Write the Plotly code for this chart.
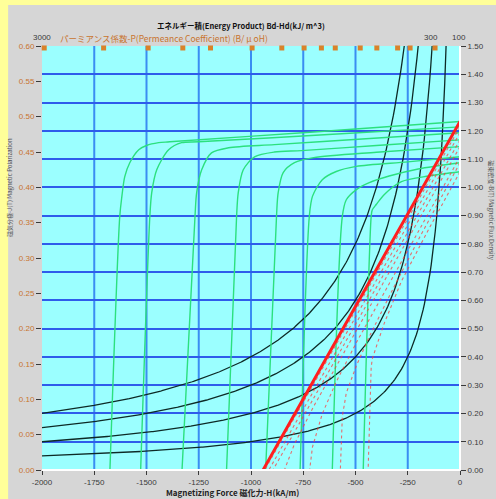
import numpy as np
import plotly.graph_objects as go

# --- axis definitions -------------------------------------------------------
h_ticks = [-2000, -1750, -1500, -1250, -1000, -750, -500, -250, 0]
b_ticks = [round(0.1 * i, 2) for i in range(16)]          # right axis, T
p_ticks = [round(0.05 * i, 2) for i in range(13)]         # left axis

# --- intrinsic demagnetization curves J-H (kA/m, T) -------------------------
curve_h = [
    [0, -700, -1389, -1442, -1500, -1537, -1580, -1604, -1618, -1628, -1675],
    [0, -650, -1251, -1332, -1394, -1451, -1475, -1484, -1528],
    [0, -450, -888, -1107, -1189, -1236, -1260, -1268, -1330],
    [0, -400, -759, -888, -983, -1037, -1061, -1069, -1117],
    [0, -400, -700, -792, -846, -870, -878, -930],
    [0, -250, -496, -592, -659, -706, -721, -765],
    [0, -200, -339, -434, -496, -544, -563, -611],
    [0, -150, -280, -363, -400, -420, -425, -463],
]
curve_j = [
    [1.233, 1.196, 1.161, 1.158, 1.148, 1.133, 1.087, 1.038, 0.967, 0.897, 0.0],
    [1.214, 1.186, 1.161, 1.158, 1.133, 1.062, 0.981, 0.897, 0.0],
    [1.193, 1.172, 1.151, 1.140, 1.122, 1.062, 0.981, 0.897, 0.0],
    [1.168, 1.148, 1.130, 1.125, 1.108, 1.062, 0.981, 0.897, 0.0],
    [1.144, 1.124, 1.105, 1.087, 1.052, 0.981, 0.897, 0.0],
    [1.108, 1.090, 1.074, 1.056, 1.027, 0.968, 0.897, 0.0],
    [1.087, 1.065, 1.040, 1.017, 0.992, 0.956, 0.897, 0.0],
    [1.055, 1.040, 1.020, 0.974, 0.94, 0.92, 0.897, 0.0],
]

# --- energy product iso-lines (kJ/m^3) and permeance marks ------------------
energy_products = [100, 200, 300, 400]
energy_labels = [300, 100]
permeance = [0.6, 0.7, 0.8, 0.9, 1.0, 1.2, 1.4, 1.6, 1.8, 2.0, 2.5, 3.0, 4.0, 5.0, 10.0]

MU0 = 4e-7 * np.pi * 1e3   # T per kA/m
B_TOP = 1.5

ORANGE = "#C8742E"
TXT = "#3a3a3a"
GREEN = "#2CE07E"

fig = go.Figure()

# energy product hyperbolas B*H = const
for e in energy_products:
    h = np.linspace(-2000, -e / B_TOP, 300)
    fig.add_trace(go.Scatter(x=h, y=e / np.abs(h), mode="lines",
                             line=dict(color="#0d2a26", width=1.3),
                             yaxis="y", hoverinfo="skip", showlegend=False))

# J-H curves
for h, j in zip(curve_h, curve_j):
    fig.add_trace(go.Scatter(x=h, y=j, mode="lines",
                             line=dict(color=GREEN, width=1.4, shape="spline", smoothing=0.8),
                             yaxis="y", hoverinfo="skip", showlegend=False))

# B-H curves: B = J + mu0*H
for i, (h, j) in enumerate(zip(curve_h, curve_j)):
    hb = np.array(h, dtype=float)
    b = np.array(j) + MU0 * hb
    if i == 0:
        ln = dict(color="#FF1E1E", width=3)
    else:
        ln = dict(color="rgba(255,60,60,0.75)", width=1.1, dash="dot")
    fig.add_trace(go.Scatter(x=hb, y=b, mode="lines", line=ln,
                             yaxis="y", hoverinfo="skip", showlegend=False))

# permeance coefficient marks along the top edge
p_h = [-B_TOP / (MU0 * p) for p in permeance]
fig.add_trace(go.Scatter(x=p_h, y=[1.493] * len(p_h), mode="markers",
                         marker=dict(symbol="square", size=5, color="#D9822B",
                                     line=dict(width=0)),
                         yaxis="y", cliponaxis=False, hoverinfo="skip", showlegend=False))

# dummy trace for the left axis
fig.add_trace(go.Scatter(x=[None], y=[None], yaxis="y2", showlegend=False))

annotations = [
    dict(text="<b>エネルギー積(Energy Product) Bd-Hd(kJ/ m^3)</b>", x=0.476, y=1.0475,
         xref="paper", yref="paper", showarrow=False, xanchor="center", yanchor="middle",
         font=dict(size=7.5, color="#111", family="Noto Sans CJK JP")),
    dict(text="パーミアンス係数-P(Permeance Coefficient) (B/ μ oH)", x=0.0381, y=1.0195,
         xref="paper", yref="paper", showarrow=False, xanchor="left", yanchor="middle",
         font=dict(size=8.5, color=ORANGE, family="Noto Sans CJK JP")),
    dict(text="3000", x=0.0, y=1.0195, xref="paper", yref="paper", showarrow=False,
         xanchor="center", yanchor="middle", font=dict(size=8, color=TXT, family="Liberation Sans")),
    dict(text="<b>Magnetizing Force 磁化力-H(kA/m)</b>", x=0.455, y=-0.052,
         xref="paper", yref="paper", showarrow=False, xanchor="center", yanchor="middle",
         font=dict(size=8, color="#222", family="Noto Sans CJK JP")),
    dict(text="磁気分極-J(T) Magnetic Polarization", x=-0.078, y=0.666, xref="paper", yref="paper",
         showarrow=False, textangle=-90, xanchor="center", yanchor="middle",
         font=dict(size=6, color="#555", family="Noto Sans CJK JP")),
    dict(text="磁束密度-B(T) Magnetic Flux Density", x=1.075, y=0.612, xref="paper", yref="paper",
         showarrow=False, textangle=90, xanchor="center", yanchor="middle",
         font=dict(size=6, color="#555", family="Noto Sans CJK JP")),
]
for e in energy_labels:
    annotations.append(dict(text=str(e), x=-e / B_TOP, y=1.0195, xref="x", yref="paper",
                            xshift=13, showarrow=False, xanchor="center", yanchor="middle",
                            font=dict(size=8, color=TXT, family="Liberation Sans")))

shapes = [
    # outer yellow frame strips
    dict(type="rect", xref="paper", yref="paper", x0=-0.11, x1=-0.081, y0=-0.08, y1=1.12,
         fillcolor="#FFFF99", line=dict(width=0), layer="above"),
    dict(type="rect", xref="paper", yref="paper", x0=-0.11, x1=1.09, y0=1.0965, y1=1.12,
         fillcolor="#FFFF99", line=dict(width=0), layer="above"),
    # white border at right and bottom of the plot area
    dict(type="line", xref="paper", yref="paper", x0=1.0, x1=1.0, y0=0, y1=1,
         line=dict(color="white", width=2)),
    dict(type="line", xref="paper", yref="paper", x0=0, x1=1.0, y0=0, y1=0,
         line=dict(color="white", width=2)),
]
# vertical grid lines
for t in h_ticks[1:-1]:
    shapes.append(dict(type="line", xref="x", yref="paper", x0=t, x1=t, y0=0, y1=1,
                       line=dict(color="#3A8DF2", width=2), layer="below"))

fig.update_layout(
    width=496, height=499,
    margin=dict(l=42, r=34, t=46, b=28),
    paper_bgcolor="#D6D6D6", plot_bgcolor="#9BFFFF",
    xaxis=dict(range=[-2000, 0], tickvals=h_ticks, ticktext=[f"{t:d}" for t in h_ticks],
               showgrid=False, zeroline=False, ticks="outside", ticklen=4, tickcolor=TXT,
               tickfont=dict(size=8, color=TXT, family="Liberation Sans")),
    yaxis=dict(range=[0, 1.5], tickvals=b_ticks, ticktext=[f"{t:.2f}" for t in b_ticks],
               side="right", showgrid=True, gridcolor="#2F5CEB", gridwidth=2, zeroline=False,
               ticks="outside", ticklen=5, tickcolor=TXT,
               tickfont=dict(size=8, color=TXT, family="Liberation Sans")),
    yaxis2=dict(range=[0, 0.6], tickvals=p_ticks, ticktext=[f"{t:.2f}" for t in p_ticks],
                side="left", overlaying="y", showgrid=False, zeroline=False,
                ticks="outside", ticklen=5, tickcolor=TXT,
                tickfont=dict(size=8, color=ORANGE, family="Liberation Sans")),
    annotations=annotations,
    shapes=shapes,
    showlegend=False,
)

fig.write_html("out.html")
